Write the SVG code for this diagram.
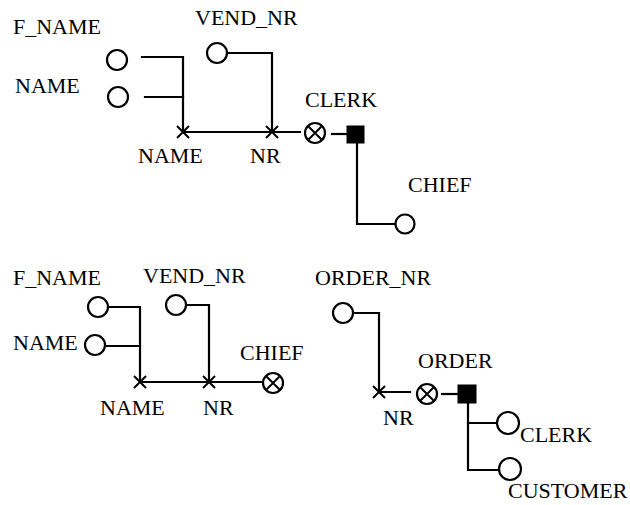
<svg xmlns="http://www.w3.org/2000/svg" width="630" height="505" viewBox="0 0 630 505">
<style>
.ln{fill:none;stroke:#000;stroke-width:2.2;stroke-linecap:square}
.att{fill:#fff;stroke:#000;stroke-width:2.2}
.box{fill:#000;stroke:#000;stroke-width:1}
</style>
<defs>
<g id="cross"><path d="M-6,-6 L6,6 M6,-6 L-6,6" fill="none" stroke="#000" stroke-width="2"/></g>
<g id="otimes"><circle r="10" fill="#fff" stroke="#000" stroke-width="2.2"/><path d="M-6.5,-6.5 L6.5,6.5 M6.5,-6.5 L-6.5,6.5" stroke="#000" stroke-width="2"/></g>
</defs>
<rect width="630" height="505" fill="#fff"/>

<g id="connectors">
<path class="ln" d="M142,57 H183 V132"/>
<path class="ln" d="M145,97 H183"/>
<path class="ln" d="M227,53 H272 V132"/>
<path class="ln" d="M183,132 H300"/>
<path class="ln" d="M332,134 H346"/>
<path class="ln" d="M357,143 V224 H396"/>

<path class="ln" d="M108,307 H140 V382"/>
<path class="ln" d="M105,346 H140"/>
<path class="ln" d="M186,305 H209 V382"/>
<path class="ln" d="M140,382 H263"/>

<path class="ln" d="M353,313 H379 V392"/>
<path class="ln" d="M379,392 H410"/>
<path class="ln" d="M442,394 H458"/>
<path class="ln" d="M468,403 V470 H499"/>
<path class="ln" d="M468,423 H497"/>
</g>

<g font-family="Liberation Serif, Times New Roman, serif" font-size="22" fill="#000">
<g id="top-fname"><circle class="att" cx="117" cy="60" r="10"/><text x="13" y="34">F_NAME</text></g>
<g id="top-name"><circle class="att" cx="118" cy="97" r="10"/><text x="15" y="93">NAME</text></g>
<g id="top-vendnr"><circle class="att" cx="217" cy="53" r="10"/><text x="195" y="25">VEND_NR</text></g>
<g id="top-key-name"><use href="#cross" x="183" y="132"/><text x="138" y="163">NAME</text></g>
<g id="top-key-nr"><use href="#cross" x="272" y="132"/><text x="250" y="163">NR</text></g>
<g id="top-clerk"><use href="#otimes" x="315" y="133"/><text x="305" y="107">CLERK</text></g>
<g id="top-entity"><rect class="box" x="347" y="126" width="17" height="17"/></g>
<g id="top-chief"><circle class="att" cx="405" cy="224" r="9.5"/><text x="408" y="192">CHIEF</text></g>

<g id="bot-fname"><circle class="att" cx="98" cy="307" r="10"/><text x="13" y="285">F_NAME</text></g>
<g id="bot-name"><circle class="att" cx="95" cy="345" r="10"/><text x="13" y="350">NAME</text></g>
<g id="bot-vendnr"><circle class="att" cx="176" cy="305" r="10"/><text x="143" y="283">VEND_NR</text></g>
<g id="bot-key-name"><use href="#cross" x="140" y="382"/><text x="100" y="415">NAME</text></g>
<g id="bot-key-nr"><use href="#cross" x="209" y="382"/><text x="203" y="415">NR</text></g>
<g id="bot-chief"><use href="#otimes" x="273" y="383"/><text x="240" y="360">CHIEF</text></g>

<g id="ordernr"><circle class="att" cx="343" cy="313" r="10"/><text x="315" y="285">ORDER_NR</text></g>
<g id="order-key-nr"><use href="#cross" x="379" y="392"/><text x="383" y="425">NR</text></g>
<g id="order"><use href="#otimes" x="427" y="394"/><text x="418" y="368">ORDER</text></g>
<g id="order-entity"><rect class="box" x="458" y="385" width="18" height="18"/></g>
<g id="order-clerk"><circle class="att" cx="508" cy="423" r="11"/><text x="520" y="442">CLERK</text></g>
<g id="order-customer"><circle class="att" cx="510" cy="469" r="11"/><text x="508" y="498">CUSTOMER</text></g>
</g>
</svg>
